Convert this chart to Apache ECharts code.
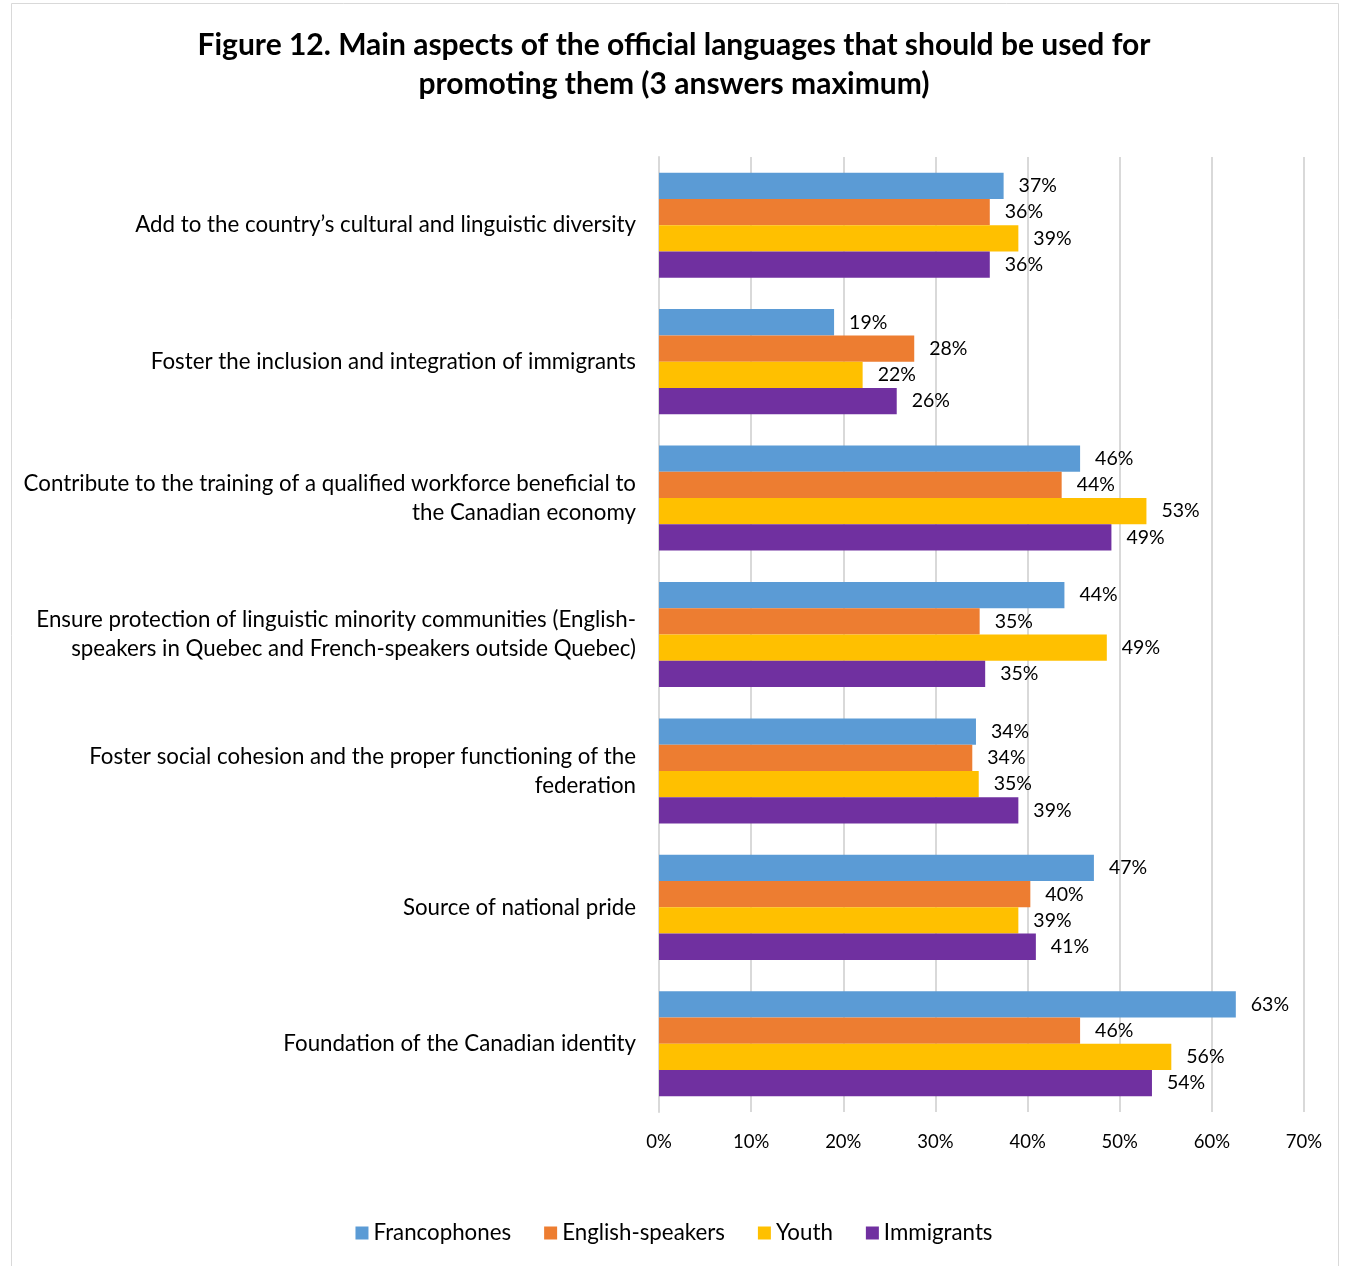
<!DOCTYPE html>
<html>
<head>
<meta charset="utf-8">
<script src="https://cdn.jsdelivr.net/npm/echarts@6/dist/echarts.min.js"></script>
<style>
  html, body { margin: 0; padding: 0; background: #fff; }
  #chart { width: 1348px; height: 1266px; }
</style>
</head>
<body>
<div id="chart"></div>
<script>
// categories, top to bottom
const categories = [
    'Add to the country\u2019s cultural and linguistic diversity',
    'Foster the inclusion and integration of immigrants',
    'Contribute to the training of a qualified workforce beneficial to\nthe Canadian economy',
    'Ensure protection of linguistic minority communities (English-\nspeakers in Quebec and French-speakers outside Quebec)',
    'Foster social cohesion and the proper functioning of the\nfederation',
    'Source of national pride',
    'Foundation of the Canadian identity'
]

const francophones = [37.4, 19.0, 45.7, 44.0, 34.4, 47.2, 62.6]
const englishSpeakers = [35.9, 27.7, 43.7, 34.8, 34.0, 40.3, 45.7]
const youth = [39.0, 22.1, 52.9, 48.6, 34.7, 39.0, 55.6]
const immigrants = [35.9, 25.8, 49.1, 35.4, 39.0, 40.9, 53.5]

const seriesNames = ['Francophones', 'English-speakers', 'Youth', 'Immigrants']
const seriesColors = ['#5B9BD5', '#ED7D31', '#FFC000', '#7030A0']

const FONT = 'Lato'

const chart = echarts.init(document.getElementById('chart'))

const makeSeries = (name, data, color) => ({
    name: name,
    type: 'bar',
    data: data,
    barGap: '0%',
    barCategoryGap: '23%',
    itemStyle: { color: color },
    label: {
        show: true,
        position: 'right',
        distance: 15,
        color: '#000',
        fontFamily: FONT,
        fontSize: 19.5,
        formatter: (p) => Math.round(p.value) + '%'
    }
})

const option = {
    backgroundColor: '#fff',
    animation: false,
    title: {
        text: 'Figure 12. Main aspects of the official languages that should be used for\npromoting them (3 answers maximum)',
        left: 'center',
        top: 21,
        textStyle: {
            fontFamily: FONT,
            fontWeight: 'bold',
            fontSize: 30,
            lineHeight: 39,
            color: '#000'
        }
    },
    legend: {
        data: seriesNames,
        top: 1217,
        left: 'center',
        icon: 'rect',
        itemWidth: 13,
        itemHeight: 13,
        itemGap: 33,
        itemStyle: { borderWidth: 0 },
        textStyle: { fontFamily: FONT, fontSize: 22.3, color: '#000' }
    },
    grid: {
        left: 659,
        right: 44,
        top: 157,
        bottom: 154,
        containLabel: false
    },
    xAxis: {
        type: 'value',
        min: 0,
        max: 70,
        interval: 10,
        axisLine: { show: false },
        axisTick: { show: false },
        splitLine: { show: true, lineStyle: { color: '#d9d9d9', width: 2 } },
        axisLabel: {
            margin: 21,
            color: '#000',
            fontFamily: FONT,
            fontSize: 18.5,
            formatter: '{value}%'
        }
    },
    yAxis: {
        type: 'category',
        data: categories,
        inverse: true,
        axisLine: { show: true, lineStyle: { color: '#d9d9d9', width: 2 } },
        axisTick: { show: false },
        axisLabel: {
            margin: 23,
            color: '#000',
            fontFamily: FONT,
            fontSize: 22.3,
            lineHeight: 29,
            align: 'right'
        }
    },
    graphic: [{
        type: 'rect',
        shape: { x: 11.5, y: 3.5, width: 1327, height: 1280 },
        style: { fill: 'none', stroke: '#d9d9d9', lineWidth: 1 },
        silent: true
    }],
    series: [
        makeSeries(seriesNames[0], francophones, seriesColors[0]),
        makeSeries(seriesNames[1], englishSpeakers, seriesColors[1]),
        makeSeries(seriesNames[2], youth, seriesColors[2]),
        makeSeries(seriesNames[3], immigrants, seriesColors[3])
    ]
}

chart.setOption(option)
</script>
</body>
</html>
